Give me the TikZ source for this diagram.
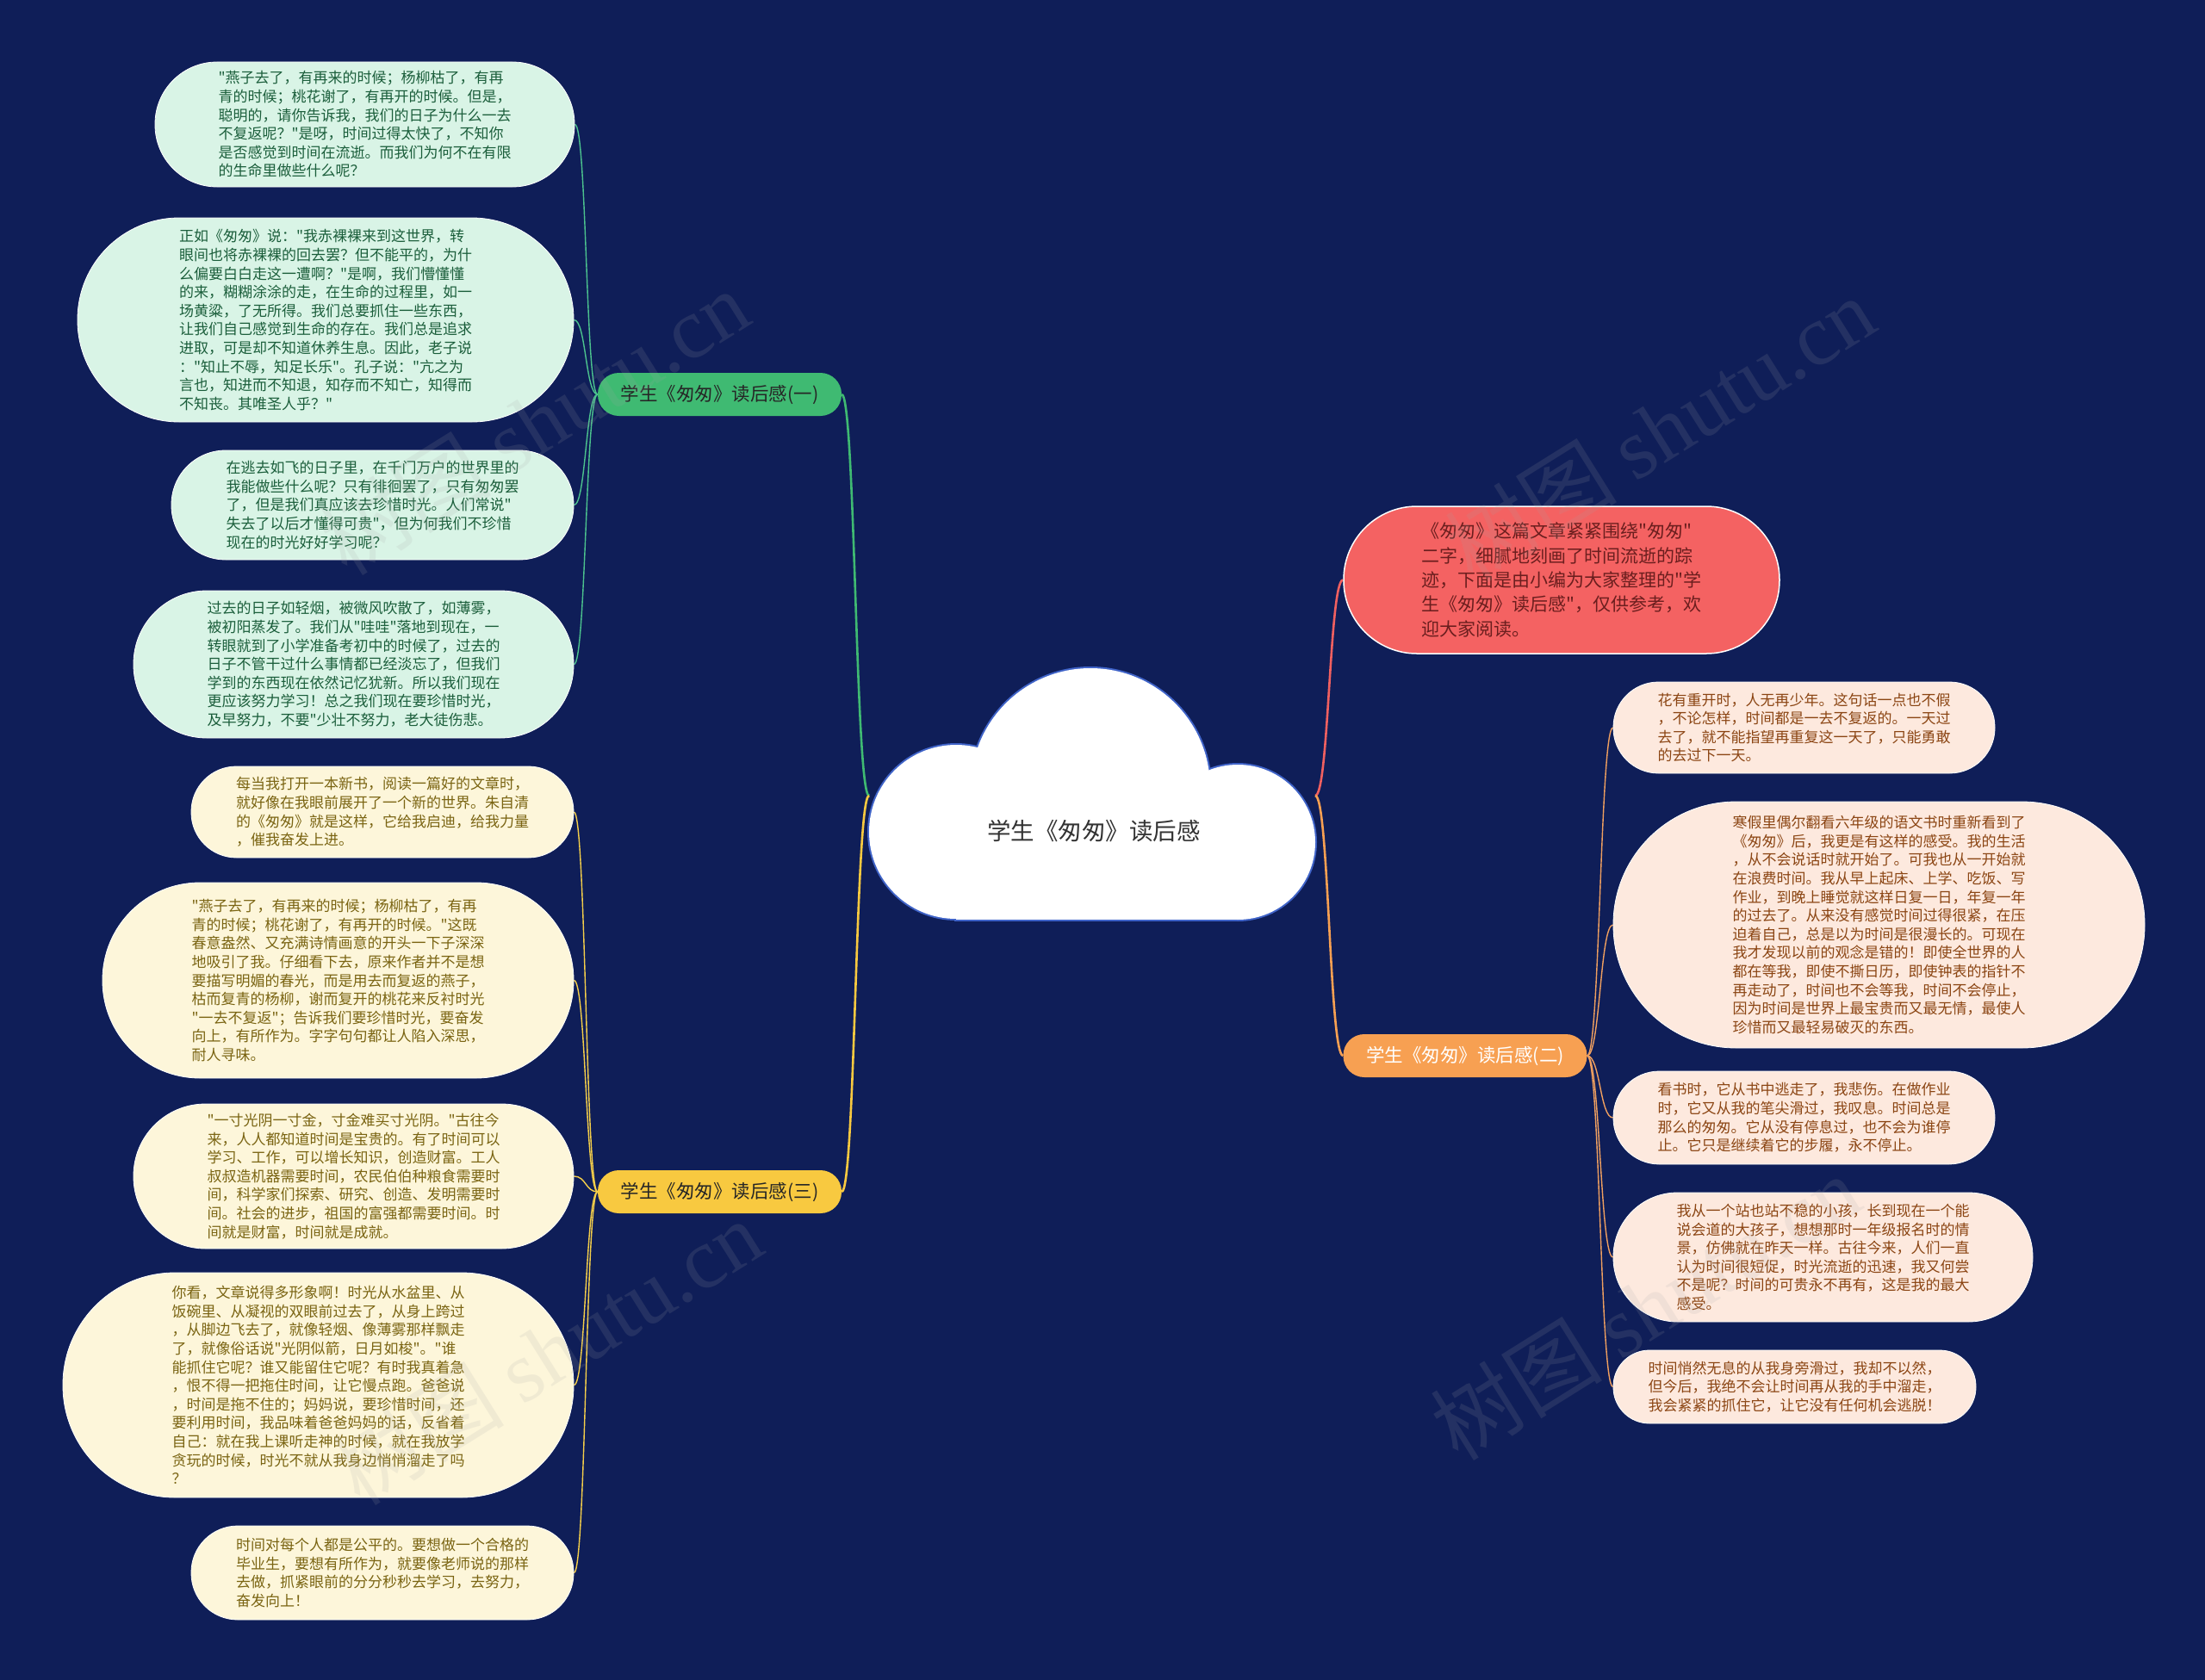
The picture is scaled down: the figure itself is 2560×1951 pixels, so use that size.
\documentclass[tikz,border=0pt]{standalone}
\usepackage{fontspec}
\setmainfont{Noto Sans CJK SC}[Ligatures=TeXOff]
\newfontfamily\wmlatin{Liberation Serif}
\definecolor{bgc}{HTML}{0F1E58}
\definecolor{cloudB}{HTML}{3F63C8}
\definecolor{brG}{HTML}{3FBA72}
\definecolor{brY}{HTML}{F8C940}
\definecolor{brO}{HTML}{F7A052}
\definecolor{brR}{HTML}{F46262}
\definecolor{lnG}{HTML}{4CC38E}
\definecolor{lnY}{HTML}{F5CF4A}
\definecolor{lnO}{HTML}{F0A060}
\definecolor{lnR}{HTML}{F06060}
\definecolor{lfG}{HTML}{D9F4E6}
\definecolor{lfY}{HTML}{FDF6DA}
\definecolor{lfO}{HTML}{FDE9DE}
\definecolor{txG}{HTML}{1B5E3B}
\definecolor{txY}{HTML}{7A6412}
\definecolor{txO}{HTML}{8B4513}
\definecolor{txR}{HTML}{6B1E1E}
\pgfdeclarelayer{back}
\pgfdeclarelayer{mid}
\pgfsetlayers{back,mid,main}
\begin{document}
\begin{tikzpicture}[x=1pt,y=-1pt,
  leaf/.style={draw=white, line width=0.8pt, inner sep=0pt, align=left,
    font=\fontsize{17}{21.6}\selectfont},
  leafG/.style={leaf, fill=lfG, text=txG},
  leafY/.style={leaf, fill=lfY, text=txY},
  leafO/.style={leaf, fill=lfO, text=txO},
  branch/.style={inner sep=0pt, minimum width=283pt, minimum height=50pt,
    rounded corners=24.5pt, font=\fontsize{21.5}{26}\selectfont},
  mainln/.style={line width=2.6pt},
  leafln/.style={line width=1.4pt},
  wm/.style={opacity=0.14, text=gray!70, rotate=32,
    font=\fontsize{100}{110}\selectfont}
]
\begin{pgfonlayer}{back}
\fill[bgc] (0,0) rectangle (2560,1951);
\end{pgfonlayer}
\useasboundingbox (0,0) rectangle (2560,1951);

% ---------- cloud (central topic)
\begin{scope}[draw=cloudB, line width=4pt]
\draw (1266,915) circle[radius=139];
\draw (1110,966) circle[radius=101];
\draw (1437,978) circle[radius=90];
\draw (1110,940) rectangle (1437,1068);
\end{scope}
\fill[white] (1266,915) circle[radius=139];
\fill[white] (1110,966) circle[radius=101];
\fill[white] (1437,978) circle[radius=90];
\fill[white] (1110,940) rectangle (1437,1068);
\node[font=\fontsize{27.5}{32}\selectfont, text=black!80] (c) at (1270,965) {学生《匆匆》读后感};
\coordinate (cl) at (1009,924);
\coordinate (cr) at (1527,924);

% ---------- branches
\node[branch, fill=brG, text=black!85] (b1) at (835.5,458) {学生《匆匆》读后感(一)};
\node[branch, fill=brY, text=black!85] (b3) at (835.5,1384) {学生《匆匆》读后感(三)};
\node[branch, fill=brO, text=white] (b2) at (1701,1226) {学生《匆匆》读后感(二)};
\node[draw=white, line width=1.5pt, fill=brR, text=txR, inner sep=0pt, align=left,
  minimum width=506pt, minimum height=171pt, rounded corners=85pt,
  font=\fontsize{21}{28.3}\selectfont] (intro) at (1813,673.5)
  {《匆匆》这篇文章紧紧围绕"匆匆"\\二字，细腻地刻画了时间流逝的踪\\迹，下面是由小编为大家整理的"学\\生《匆匆》读后感"，仅供参考，欢\\迎大家阅读。};

% ---------- green leaves
\node[leafG, minimum width=487pt, minimum height=145pt, rounded corners=72pt] (g1) at (423.5,144.5)
 {"燕子去了，有再来的时候；杨柳枯了，有再\\青的时候；桃花谢了，有再开的时候。但是，\\聪明的，请你告诉我，我们的日子为什么一去\\不复返呢？"是呀，时间过得太快了，不知你\\是否感觉到时间在流逝。而我们为何不在有限\\的生命里做些什么呢？};
\node[leafG, minimum width=576pt, minimum height=237pt, rounded corners=118pt] (g2) at (378,371.5)
 {正如《匆匆》说："我赤裸裸来到这世界，转\\眼间也将赤裸裸的回去罢？但不能平的，为什\\么偏要白白走这一遭啊？"是啊，我们懵懂懂\\的来，糊糊涂涂的走，在生命的过程里，如一\\场黄粱，了无所得。我们总要抓住一些东西，\\让我们自己感觉到生命的存在。我们总是追求\\进取，可是却不知道休养生息。因此，老子说\\："知止不辱，知足长乐"。孔子说："亢之为\\言也，知进而不知退，知存而不知亡，知得而\\不知丧。其唯圣人乎？"};
\node[leafG, minimum width=467pt, minimum height=127pt, rounded corners=63pt] (g3) at (432.5,586.5)
 {在逃去如飞的日子里，在千门万户的世界里的\\我能做些什么呢？只有徘徊罢了，只有匆匆罢\\了，但是我们真应该去珍惜时光。人们常说"\\失去了以后才懂得可贵"，但为何我们不珍惜\\现在的时光好好学习呢？};
\node[leafG, minimum width=511pt, minimum height=171pt, rounded corners=85pt] (g4) at (410.5,771.5)
 {过去的日子如轻烟，被微风吹散了，如薄雾，\\被初阳蒸发了。我们从"哇哇"落地到现在，一\\转眼就到了小学准备考初中的时候了，过去的\\日子不管干过什么事情都已经淡忘了，但我们\\学到的东西现在依然记忆犹新。所以我们现在\\更应该努力学习！总之我们现在要珍惜时光，\\及早努力，不要"少壮不努力，老大徒伤悲。};

% ---------- yellow leaves
\node[leafY, minimum width=444pt, minimum height=106pt, rounded corners=52.5pt] (y1) at (444,943)
 {每当我打开一本新书，阅读一篇好的文章时，\\就好像在我眼前展开了一个新的世界。朱自清\\的《匆匆》就是这样，它给我启迪，给我力量\\，催我奋发上进。};
\node[leafY, minimum width=547pt, minimum height=227pt, rounded corners=113pt] (y2) at (392.5,1138.5)
 {"燕子去了，有再来的时候；杨柳枯了，有再\\青的时候；桃花谢了，有再开的时候。"这既\\春意盎然、又充满诗情画意的开头一下子深深\\地吸引了我。仔细看下去，原来作者并不是想\\要描写明媚的春光，而是用去而复返的燕子，\\枯而复青的杨柳，谢而复开的桃花来反衬时光\\"一去不复返"；告诉我们要珍惜时光，要奋发\\向上，有所作为。字字句句都让人陷入深思，\\耐人寻味。};
\node[leafY, minimum width=511pt, minimum height=168pt, rounded corners=83.5pt] (y3) at (410.5,1366)
 {"一寸光阴一寸金，寸金难买寸光阴。"古往今\\来，人人都知道时间是宝贵的。有了时间可以\\学习、工作，可以增长知识，创造财富。工人\\叔叔造机器需要时间，农民伯伯种粮食需要时\\间，科学家们探索、研究、创造、发明需要时\\间。社会的进步，祖国的富强都需要时间。时\\间就是财富，时间就是成就。};
\node[leafY, minimum width=593pt, minimum height=261pt, rounded corners=130pt] (y4) at (369.5,1608.5)
 {你看，文章说得多形象啊！时光从水盆里、从\\饭碗里、从凝视的双眼前过去了，从身上跨过\\，从脚边飞去了，就像轻烟、像薄雾那样飘走\\了，就像俗话说"光阴似箭，日月如梭"。"谁\\能抓住它呢？谁又能留住它呢？有时我真着急\\，恨不得一把拖住时间，让它慢点跑。爸爸说\\，时间是拖不住的；妈妈说，要珍惜时间，还\\要利用时间，我品味着爸爸妈妈的话，反省着\\自己：就在我上课听走神的时候，就在我放学\\贪玩的时候，时光不就从我身边悄悄溜走了吗\\？};
\node[leafY, minimum width=444pt, minimum height=109pt, rounded corners=54pt] (y5) at (444,1826.5)
 {时间对每个人都是公平的。要想做一个合格的\\毕业生，要想有所作为，就要像老师说的那样\\去做，抓紧眼前的分分秒秒去学习，去努力，\\奋发向上！};

% ---------- orange leaves
\node[leafO, minimum width=443pt, minimum height=106pt, rounded corners=52.5pt] (o1) at (2094.5,845)
 {花有重开时，人无再少年。这句话一点也不假\\，不论怎样，时间都是一去不复返的。一天过\\去了，就不能指望再重复这一天了，只能勇敢\\的去过下一天。};
\node[leafO, minimum width=617pt, minimum height=286pt, rounded corners=142.5pt] (o2) at (2181.5,1074)
 {寒假里偶尔翻看六年级的语文书时重新看到了\\《匆匆》后，我更是有这样的感受。我的生活\\，从不会说话时就开始了。可我也从一开始就\\在浪费时间。我从早上起床、上学、吃饭、写\\作业，到晚上睡觉就这样日复一日，年复一年\\的过去了。从来没有感觉时间过得很紧，在压\\迫着自己，总是以为时间是很漫长的。可现在\\我才发现以前的观念是错的！即使全世界的人\\都在等我，即使不撕日历，即使钟表的指针不\\再走动了，时间也不会等我，时间不会停止，\\因为时间是世界上最宝贵而又最无情，最使人\\珍惜而又最轻易破灭的东西。};
\node[leafO, minimum width=443pt, minimum height=108pt, rounded corners=53.5pt] (o3) at (2094.5,1298)
 {看书时，它从书中逃走了，我悲伤。在做作业\\时，它又从我的笔尖滑过，我叹息。时间总是\\那么的匆匆。它从没有停息过，也不会为谁停\\止。它只是继续着它的步履，永不停止。};
\node[leafO, minimum width=487pt, minimum height=150pt, rounded corners=74.5pt] (o4) at (2116.5,1460)
 {我从一个站也站不稳的小孩，长到现在一个能\\说会道的大孩子，想想那时一年级报名时的情\\景，仿佛就在昨天一样。古往今来，人们一直\\认为时间很短促，时光流逝的迅速，我又何尝\\不是呢？时间的可贵永不再有，这是我的最大\\感受。};
\node[leafO, minimum width=421pt, minimum height=85pt, rounded corners=42pt] (o5) at (2083.5,1610.5)
 {时间悄然无息的从我身旁滑过，我却不以然，\\但今后，我绝不会让时间再从我的手中溜走，\\我会紧紧的抓住它，让它没有任何机会逃脱！};

% ---------- connectors
\begin{pgfonlayer}{mid}
\draw[mainln, brG] (cl) .. controls +(-16,0) and +(16,0) .. (b1.east);
\draw[mainln, brY] (cl) .. controls +(-16,0) and +(16,0) .. (b3.east);
\draw[mainln, lnR] (cr) .. controls +(16,0) and +(-16,0) .. (intro.west);
\draw[mainln, brO] (cr) .. controls +(16,0) and +(-16,0) .. (b2.west);
\foreach \n in {g1,g2,g3,g4}
  \draw[leafln, lnG] (b1.west) .. controls +(-14,0) and +(14,0) .. (\n.east);
\foreach \n in {y1,y2,y3,y4,y5}
  \draw[leafln, lnY] (b3.west) .. controls +(-14,0) and +(14,0) .. (\n.east);
\foreach \n in {o1,o2,o3,o4,o5}
  \draw[leafln, lnO] (b2.east) .. controls +(15,0) and +(-15,0) .. (\n.west);
\end{pgfonlayer}

% ---------- watermarks
\node[wm] (w1) at (620,490) {树图 {\wmlatin shutu.cn}};
\node[wm] (w2) at (1927,498) {树图 {\wmlatin shutu.cn}};
\node[wm] (w3) at (635,1570) {树图 {\wmlatin shutu.cn}};
\node[wm] (w4) at (1910,1518) {树图 {\wmlatin shutu.cn}};
\end{tikzpicture}
\end{document}
